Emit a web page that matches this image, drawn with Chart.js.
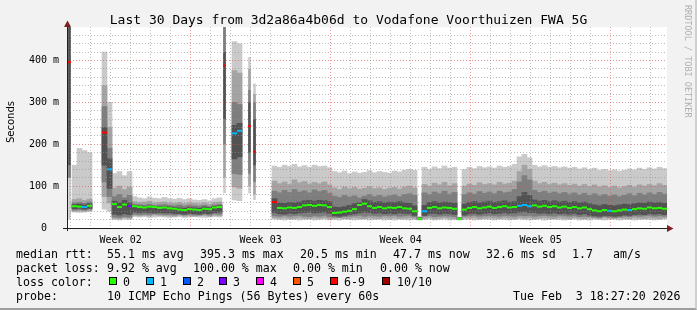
<!DOCTYPE html>
<html>
<head>
<meta charset="utf-8">
<script src="https://cdn.jsdelivr.net/npm/chart.js@4.4.1/dist/chart.umd.min.js"></script>
<style>
  html, body { margin: 0; padding: 0; background: #f2f2f2; }
  #graph { position: relative; width: 697px; height: 310px; background: #f2f2f2; overflow: hidden;
           font-family: 'DejaVu Sans Mono', monospace; color: #000; }
  #graph canvas { position: absolute; left: 0; top: 0; }
  #frame { position: absolute; left: 0; top: 0; width: 697px; height: 310px; box-sizing: border-box;
           border-right: 2px solid #cfcfcf; border-bottom: 2px solid #9e9e9e; pointer-events: none; }
  .t { position: absolute; white-space: pre; font-size: 11.6px; line-height: 14px; }
  .box { position: absolute; top: 277px; width: 6px; height: 6px; border: 1px solid #000; }
  #title { position: absolute; left: 0; top: 12px; width: 697px; text-align: center; white-space: pre;
           font-size: 13px; line-height: 15px; }
  #ylabel { position: absolute; left: 5px; top: 101px; writing-mode: vertical-rl; transform: rotate(180deg);
            font-family: 'DejaVu Sans', sans-serif; font-size: 10px; line-height: 12px; }
  #rrd { position: absolute; left: 683px; top: 5px; writing-mode: vertical-rl; white-space: pre;
         font-size: 8.5px; line-height: 10px; color: #b0b0b0; }
</style>
</head>
<body>
<div id="graph">
  <canvas id="chart" width="697" height="310"></canvas>
  <div id="title">Last 30 Days from 3d2a86a4b06d to Vodafone Voorthuizen FWA 5G</div>
  <div id="ylabel">Seconds</div>
  <div id="rrd">RRDTOOL / TOBI OETIKER</div>

  <span class="t" style="left:16px;top:247px">median rtt:</span>
  <span class="t" style="left:107px;top:247px">55.1 ms avg</span>
  <span class="t" style="left:200px;top:247px">395.3 ms max</span>
  <span class="t" style="left:300px;top:247px">20.5 ms min</span>
  <span class="t" style="left:393px;top:247px">47.7 ms now</span>
  <span class="t" style="left:486px;top:247px">32.6 ms sd</span>
  <span class="t" style="left:572px;top:247px">1.7</span>
  <span class="t" style="left:613px;top:247px">am/s</span>

  <span class="t" style="left:16px;top:261px">packet loss:</span>
  <span class="t" style="left:107px;top:261px">9.92 % avg</span>
  <span class="t" style="left:193px;top:261px">100.00 % max</span>
  <span class="t" style="left:293px;top:261px">0.00 % min</span>
  <span class="t" style="left:380px;top:261px">0.00 % now</span>

  <span class="t" style="left:16px;top:275px">loss color:</span>
  <div id="lossLegend"></div>

  <span class="t" style="left:16px;top:289px">probe:</span>
  <span class="t" style="left:107px;top:289px">10 ICMP Echo Pings (56 Bytes) every 60s</span>
  <span class="t" style="left:513px;top:289px">Tue Feb  3 18:27:20 2026</span>
  <div id="frame"></div>
</div>
<script>
// one sample every 6 hours over the 30 days shown, values in ms
const sampleDays = 0.25;

// sorted pings per sample: p1 = fastest ... p10 = slowest
const p10 = [
  480, 150, 190, 185, 180, null, null, 420, 300, 130,
  135, 125, 135, 75, 72, 70, 74, 71, 70, 73,
  70, 69, 71, 68, 70, 67, 66, 68, 65, 70,
  72, 480, null, 445, 440, null, 408, 345, null, null,
  null, 148, 145, 150, 147, 152, 146, 149, 145, 150,
  147, 148, 144, 135, 132, 136, 130, 134, 131, 133,
  137, 132, 135, 133, 131, 136, 134, 138, 140, 138,
  27, 145, 140, 146, 142, 148, 143, 145, 26, 140,
  145, 142, 147, 144, 146, 143, 148, 145, 147, 152,
  170, 176, 168, 150, 146, 149, 145, 147, 144, 146,
  143, 145, 141, 144, 140, 143, 138, 140, 137, 139,
  136, 138, 141, 139, 143, 140, 144, 141, 145, 142
];
const p9 = [
  480, 68, 70, 66, 69, null, null, 340, 240, 95,
  100, 92, 98, 63, 61, 62, 64, 60, 61, 62,
  60, 59, 61, 58, 60, 59, 58, 60, 57, 61,
  62, 480, null, 376, 370, null, 380, 320, null, null,
  null, 112, 106, 110, 104, 115, 108, 111, 105, 109,
  106, 110, 103, 96, 92, 98, 94, 97, 93, 95,
  99, 94, 96, 92, 95, 97, 93, 98, 100, 96,
  26, 104, 100, 107, 103, 109, 101, 106, 25, 100,
  105, 102, 108, 104, 106, 103, 109, 105, 107, 112,
  135, 150, 140, 112, 106, 109, 104, 107, 103, 106,
  102, 105, 100, 104, 99, 103, 98, 101, 97, 100,
  96, 99, 102, 98, 103, 100, 104, 101, 106, 102
];
const p8 = [
  480, 60, 61, 59, 62, null, null, 290, 190, 75,
  80, 72, 78, 57, 56, 55, 57, 54, 55, 56,
  54, 53, 55, 52, 54, 53, 52, 54, 51, 55,
  56, 480, null, 300, 295, null, 330, 300, null, null,
  null, 88, 84, 90, 85, 92, 86, 89, 84, 91,
  87, 90, 83, 76, 73, 78, 74, 77, 72, 76,
  80, 75, 78, 74, 77, 79, 75, 80, 82, 78,
  25, 84, 80, 86, 82, 88, 81, 85, 24, 80,
  84, 81, 87, 83, 86, 82, 88, 84, 86, 92,
  110, 125, 115, 90, 85, 88, 83, 86, 82, 85,
  81, 84, 79, 83, 78, 82, 77, 80, 76, 79,
  75, 78, 82, 77, 83, 79, 84, 80, 85, 81
];
const p7 = [
  480, 56, 57, 55, 58, null, null, 240, 165, 64,
  60, 66, 60, 53, 52, 51, 53, 51, 50, 51,
  50, 49, 48, 47, 49, 48, 47, 50, 49, 52,
  53, 420, null, 245, 250, null, 300, 260, null, null,
  null, 70, 60, 59, 61, 60, 62, 65, 66, 64,
  66, 65, 63, 50, 49, 51, 54, 58, 60, 68,
  65, 61, 63, 60, 62, 61, 63, 60, 59, 53,
  24, 54, 61, 63, 60, 62, 61, 59, 24, 57,
  61, 63, 60, 62, 64, 61, 63, 65, 62, 63,
  75, 85, 78, 67, 64, 66, 63, 65, 62, 64,
  61, 63, 60, 62, 58, 55, 53, 56, 54, 53,
  55, 57, 56, 58, 60, 59, 62, 60, 61, 59
];
const p4 = [
  150, 46, 47, 45, 47, null, null, 150, 95, 33,
  31, 34, 32, 38, 37, 38, 37, 36, 37, 36,
  36, 35, 34, 33, 35, 34, 33, 35, 34, 37,
  38, 260, null, 165, 170, null, 180, 150, null, null,
  null, 37, 34, 33, 35, 34, 36, 37, 38, 36,
  37, 38, 35, 29, 28, 30, 32, 34, 36, 38,
  37, 35, 36, 34, 35, 34, 36, 35, 34, 30,
  21, 30, 34, 35, 33, 35, 34, 32, 21, 31,
  34, 35, 33, 35, 36, 34, 35, 37, 35, 36,
  38, 39, 37, 37, 35, 36, 34, 36, 34, 35,
  33, 35, 32, 34, 31, 29, 28, 30, 29, 28,
  29, 31, 30, 32, 33, 32, 34, 33, 34, 32
];
const p3 = [
  120, 43, 44, 43, 45, null, null, 110, 75, 26,
  25, 27, 26, 33, 32, 33, 32, 34, 33, 32,
  32, 31, 33, 31, 32, 31, 31, 33, 31, 34,
  33, 200, null, 130, 128, null, 130, 110, null, null,
  null, 29, 28, 30, 28, 29, 30, 28, 27, 29,
  28, 30, 27, 26, 25, 27, 28, 29, 30, 28,
  30, 29, 28, 30, 29, 30, 28, 29, 30, 27,
  21, 28, 29, 27, 28, 29, 28, 27, 21, 28,
  29, 30, 28, 29, 30, 29, 28, 30, 29, 28,
  30, 29, 30, 28, 29, 30, 29, 28, 30, 29,
  28, 29, 27, 28, 27, 26, 25, 27, 26, 25,
  26, 28, 27, 29, 28, 29, 30, 28, 29, 28
];
const p2 = [
  120, 40, 41, 40, 42, null, null, 75, 60, 23,
  22, 24, 23, 30, 29, 30, 29, 31, 30, 29,
  29, 28, 30, 28, 29, 28, 29, 30, 28, 30,
  29, 120, null, 98, 95, null, 100, 80, null, null,
  null, 24, 23, 24, 22, 23, 24, 23, 22, 24,
  23, 24, 22, 23, 24, 22, 23, 24, 23, 22,
  24, 23, 22, 24, 23, 24, 22, 23, 24, 23,
  20, 23, 24, 22, 23, 24, 23, 22, 20, 24,
  23, 24, 22, 23, 24, 23, 22, 24, 23, 22,
  24, 23, 24, 22, 23, 24, 23, 22, 24, 23,
  22, 24, 23, 22, 24, 23, 22, 24, 23, 22,
  24, 23, 22, 24, 23, 22, 24, 23, 22, 24
];
const p1 = [
  20, 38, 37, 38, 39, null, null, 45, 40, 20,
  19, 21, 20, 27, 26, 27, 25, 26, 27, 26,
  25, 26, 27, 25, 26, 27, 26, 25, 26, 27,
  26, 83, null, 67, 65, null, 83, 67, null, null,
  null, 21, 20, 19, 21, 20, 19, 20, 21, 19,
  20, 21, 19, 20, 19, 21, 20, 19, 20, 21,
  19, 20, 21, 19, 20, 19, 21, 20, 19, 20,
  19, 20, 21, 19, 20, 21, 19, 20, 19, 20,
  21, 19, 20, 21, 20, 19, 21, 20, 19, 20,
  21, 20, 19, 20, 21, 19, 20, 21, 20, 19,
  20, 21, 19, 20, 19, 21, 20, 19, 20, 21,
  19, 20, 21, 19, 20, 21, 20, 19, 20, 21
];
const median = [
  396, 52, 51, 50, 53, null, null, 228, 140, 57,
  50, 56, 52, 52, 50, 49, 51, 50, 48, 49,
  47, 46, 44, 43, 45, 44, 43, 46, 45, 49,
  50, 388, null, 226, 232, null, 243, 182, null, null,
  null, 62, 48, 47, 49, 48, 50, 54, 55, 53,
  55, 54, 50, 36, 37, 39, 41, 45, 55, 58,
  52, 48, 50, 47, 49, 48, 50, 47, 46, 40,
  22, 40, 48, 50, 47, 49, 48, 46, 22, 44,
  48, 50, 47, 49, 51, 48, 50, 52, 49, 50,
  53, 55, 52, 54, 51, 53, 50, 52, 49, 51,
  48, 50, 47, 49, 45, 42, 40, 43, 41, 40,
  42, 44, 43, 45, 47, 46, 49, 47, 48, 46
];
// lost pings out of 10 per sample
const loss = [
  7, 0, 0, 1, 0, 0, 0, 7, 1, 0,
  0, 0, 3, 0, 0, 0, 0, 0, 0, 0,
  0, 0, 0, 0, 0, 0, 0, 0, 0, 0,
  0, 7, 0, 1, 1, 0, 7, 7, 0, 0,
  0, 7, 0, 0, 0, 0, 0, 0, 0, 0,
  0, 0, 0, 0, 0, 0, 0, 0, 0, 0,
  0, 0, 0, 0, 0, 0, 0, 0, 0, 0,
  0, 1, 0, 0, 0, 0, 0, 0, 0, 0,
  0, 0, 0, 0, 0, 0, 0, 0, 0, 0,
  1, 1, 1, 0, 0, 0, 0, 0, 0, 0,
  0, 0, 0, 0, 0, 0, 0, 0, 1, 0,
  0, 0, 1, 0, 0, 0, 0, 0, 0, 0
];
// samples that were only short bursts of answers (drawn as thin lines)
const burstSamples = [0, 31, 36, 37];

const lossLabels = ['0', '1', '2', '3', '4', '5', '6-9', '10/10'];
const lossLabelColors = ['#26ff00', '#00b8ff', '#0059ff', '#7e00ff', '#ff00ff', '#ff5500', '#ff0000', '#a10000'];
function lossColor(n) {
  if (n >= 10) return lossLabelColors[7];
  if (n >= 6) return lossLabelColors[6];
  return lossLabelColors[n];
}

// axis: days since start of window
const weekLabels = ['Week 02', 'Week 03', 'Week 04', 'Week 05'];
const weekLabelDays = [2.68, 9.68, 16.68, 23.68];
const weekLineDays = [6.18, 13.18, 20.18, 27.18];
const firstMidnight = 0.18;
const yTicks = [0, 100, 200, 300, 400];
const yTickLabels = ['0  ', '100 m', '200 m', '300 m', '400 m'];

const times = p10.map((v, i) => (i + 0.5) * sampleDays);

// legend boxes
const legendBoxX = [109, 146, 183, 219, 256, 293, 330, 382];
const legendTextX = [123, 160, 197, 233, 270, 307, 344, 397];
const lg = document.getElementById('lossLegend');
lossLabels.forEach((l, i) => {
  const b = document.createElement('div');
  b.className = 'box';
  b.style.left = legendBoxX[i] + 'px';
  b.style.background = lossLabelColors[i];
  lg.appendChild(b);
  const s = document.createElement('span');
  s.className = 't';
  s.style.left = legendTextX[i] + 'px';
  s.style.top = '275px';
  s.textContent = l;
  lg.appendChild(s);
});

function band(lo, hi, color, burst) {
  return {
    type: 'bar',
    data: times.map((t, i) => {
      const keep = lo[i] != null && burstSamples.includes(i) === burst;
      return { x: t, y: keep ? [lo[i], hi[i]] : null };
    }),
    backgroundColor: color,
    borderWidth: 0,
    grouped: false,
    barPercentage: burst ? 0.5 : 1,
    categoryPercentage: 1
  };
}

const rrdPlugin = {
  id: 'rrd',
  beforeDraw(chart) {
    const { ctx, chartArea: a } = chart;
    ctx.save();
    ctx.fillStyle = '#ffffff';
    ctx.fillRect(a.left, a.top, a.right - a.left, a.bottom - a.top);
    ctx.restore();
  },
  beforeDatasetDraw(chart, args) {
    if (args.index !== 0) return;
    const { ctx, chartArea: a, scales } = chart;
    const x = scales.x, y = scales.y;
    ctx.save();
    ctx.lineWidth = 1;
    ctx.setLineDash([1, 2]);
    for (let v = 20; v < y.max; v += 20) {
      const py = Math.floor(y.getPixelForValue(v)) + 0.5;
      ctx.strokeStyle = v % 100 ? 'rgba(143,143,143,0.6)' : 'rgba(222,79,79,0.6)';
      ctx.beginPath(); ctx.moveTo(a.left, py); ctx.lineTo(a.right, py); ctx.stroke();
    }
    for (let d = firstMidnight; d < x.max; d += 1) {
      const px = Math.floor(x.getPixelForValue(d)) + 0.5;
      const major = weekLineDays.some(w => Math.abs(w - d) < 0.01);
      ctx.strokeStyle = major ? 'rgba(222,79,79,0.6)' : 'rgba(143,143,143,0.6)';
      ctx.beginPath(); ctx.moveTo(px, a.top); ctx.lineTo(px, a.bottom + 3); ctx.stroke();
    }
    ctx.restore();
  },
  afterDraw(chart) {
    const { ctx, chartArea: a } = chart;
    ctx.save();
    ctx.strokeStyle = '#1f1f1f';
    ctx.lineWidth = 1;
    ctx.beginPath();
    ctx.moveTo(a.left - 4, a.bottom + 0.5); ctx.lineTo(a.right + 2, a.bottom + 0.5);
    ctx.moveTo(a.left + 0.5, a.bottom + 3); ctx.lineTo(a.left + 0.5, a.top - 2);
    ctx.stroke();
    ctx.fillStyle = '#7f1f1f';
    ctx.beginPath();
    ctx.moveTo(a.right, a.bottom - 3); ctx.lineTo(a.right + 6.5, a.bottom + 0.5); ctx.lineTo(a.right, a.bottom + 4);
    ctx.closePath(); ctx.fill();
    ctx.beginPath();
    ctx.moveTo(a.left - 3, a.top); ctx.lineTo(a.left + 0.5, a.top - 6.5); ctx.lineTo(a.left + 4, a.top);
    ctx.closePath(); ctx.fill();
    ctx.restore();
  }
};

Chart.defaults.font.family = "'DejaVu Sans Mono', monospace";

const shades = [['#525252', p4, p7], ['#7e7e7e', p3, p8], ['#a4a4a4', p2, p9], ['#cacaca', p1, p10]];
const bandSets = [];
shades.forEach(([c, lo, hi]) => { bandSets.push(band(lo, hi, c, false), band(lo, hi, c, true)); });

new Chart(document.getElementById('chart'), {
  type: 'bar',
  data: {
    datasets: [
      {
        type: 'line',
        data: times.map((t, i) => ({ x: t, y: median[i] })),
        showLine: false,
        pointStyle: 'line',
        pointRadius: c => burstSamples.includes(c.dataIndex) ? 1.5 : 2.5,
        pointBorderWidth: 2,
        pointBorderColor: c => lossColor(loss[c.dataIndex]),
        pointBackgroundColor: c => lossColor(loss[c.dataIndex])
      },
      ...bandSets
    ]
  },
  options: {
    responsive: false,
    animation: false,
    devicePixelRatio: 1,
    events: [],
    layout: { padding: { left: 12, top: 27, right: 30, bottom: 62 } },
    plugins: { legend: { display: false }, tooltip: { enabled: false } },
    scales: {
      x: {
        type: 'linear', min: 0, max: 30, offset: false,
        grid: { display: false, drawTicks: false },
        border: { display: false },
        afterBuildTicks: s => { s.ticks = weekLabelDays.map(v => ({ value: v })); },
        afterFit: s => { s.height = 20; },
        ticks: {
          autoSkip: false, maxRotation: 0, padding: 6, color: '#000',
          font: { size: 10 },
          callback: (v, i) => weekLabels[i]
        }
      },
      y: {
        type: 'linear', min: 0, max: 480,
        grid: { display: false, drawTicks: false },
        border: { display: false },
        afterBuildTicks: s => { s.ticks = yTicks.map(v => ({ value: v })); },
        afterFit: s => { s.width = 55; },
        ticks: {
          padding: 8, color: '#000',
          font: { size: 10 },
          callback: (v, i) => yTickLabels[i]
        }
      }
    }
  },
  plugins: [rrdPlugin]
});
</script>
</body>
</html>
